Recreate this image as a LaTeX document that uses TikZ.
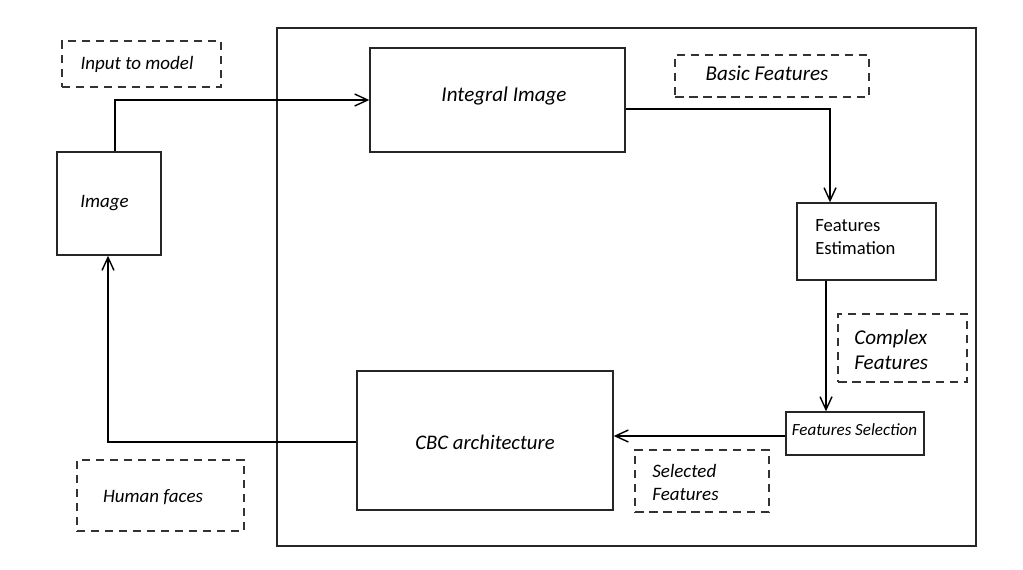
\documentclass[tikz,border=0pt]{standalone}
\usepackage{fontspec}
\setmainfont{Carlito}
\usetikzlibrary{arrows.meta}
\tikzset{
    box/.style={draw=black!85,line width=.8pt,inner sep=0pt},
    note/.style={draw=black!80,line width=.8pt,dash pattern=on 1.7mm off 1.1mm,inner sep=0pt},
    txt/.style={inner sep=0pt,font=\itshape\fontsize{10.8}{13.6}\selectfont,align=left},
    flow/.style={line width=.8pt,-{Straight Barb[length=2.6mm,width=2.4mm,line width=.8pt]}}
}
\begin{document}
\begin{tikzpicture}[x=0.02cm,y=-0.02cm]
        \useasboundingbox (0,0) rectangle (1023,569);
        % frame around the detector
        \draw[box] (277,28) rectangle (976,546);
        % boxes
        \node[box,minimum width=104*0.02cm,minimum height=103*0.02cm] (img) at (109,203.5) {};
        \node[box,minimum width=255*0.02cm,minimum height=104*0.02cm] (integral) at (497.5,100) {};
        \node[box,minimum width=139*0.02cm,minimum height=77*0.02cm] (estim) at (866.5,241.5) {};
        \node[box,minimum width=138*0.02cm,minimum height=43*0.02cm] (select) at (855,433.5) {};
        \node[box,minimum width=256*0.02cm,minimum height=139*0.02cm] (cbc) at (485,440.5) {};
        % dashed notes
        \node[note,minimum width=159*0.02cm,minimum height=46*0.02cm] (input) at (141.5,64) {};
        \node[note,minimum width=194*0.02cm,minimum height=42*0.02cm] (basic) at (772,76) {};
        \node[note,minimum width=129*0.02cm,minimum height=68*0.02cm] (complex) at (902.5,348) {};
        \node[note,minimum width=134*0.02cm,minimum height=62*0.02cm] (selected) at (702,481) {};
        \node[note,minimum width=167*0.02cm,minimum height=71*0.02cm] (faces) at (160.5,495.5) {};
        % texts
        \node[txt] (imgtext) at (104.5,203) {Image};
        \node[txt,font=\itshape\fontsize{12}{14}\selectfont] (integraltext) at (504,96) {Integral Image};
        \node[txt,anchor=west,font=\fontsize{10.6}{13}\selectfont] (estimtext) at (815,237) {Features\\Estimation};
        \node[txt,font=\itshape\fontsize{9.7}{11}\selectfont] (selecttext) at (854.5,429.5) {Features Selection};
        \node[txt,font=\itshape\fontsize{11.8}{14}\selectfont] (cbctext) at (485,442.5) {CBC architecture};
        \node[txt] (inputtext) at (137,64.5) {Input to model};
        \node[txt,font=\itshape\fontsize{12}{14}\selectfont] (basictext) at (767,73.5) {Basic Features};
        \node[txt,anchor=west,font=\itshape\fontsize{12}{14.2}\selectfont] (complextext) at (854,350) {Complex\\Features};
        \node[txt,anchor=west] (selectedtext) at (652,482.5) {Selected\\Features};
        \node[txt] (facestext) at (153,497.5) {Human faces};
        % flow
        \draw[flow] (img.north-|115,0) |- (integral.west);
        \draw[flow] (integral.east|-0,109) -| (estim.north-|830,0);
        \draw[flow] (estim.south-|826,0) -- (select.north-|826,0);
        \draw[flow] (select.west|-0,436) -- (cbc.east|-0,436);
        \draw[flow] (cbc.west|-0,442) -| (img.south-|108,0);
\end{tikzpicture}
\end{document}
